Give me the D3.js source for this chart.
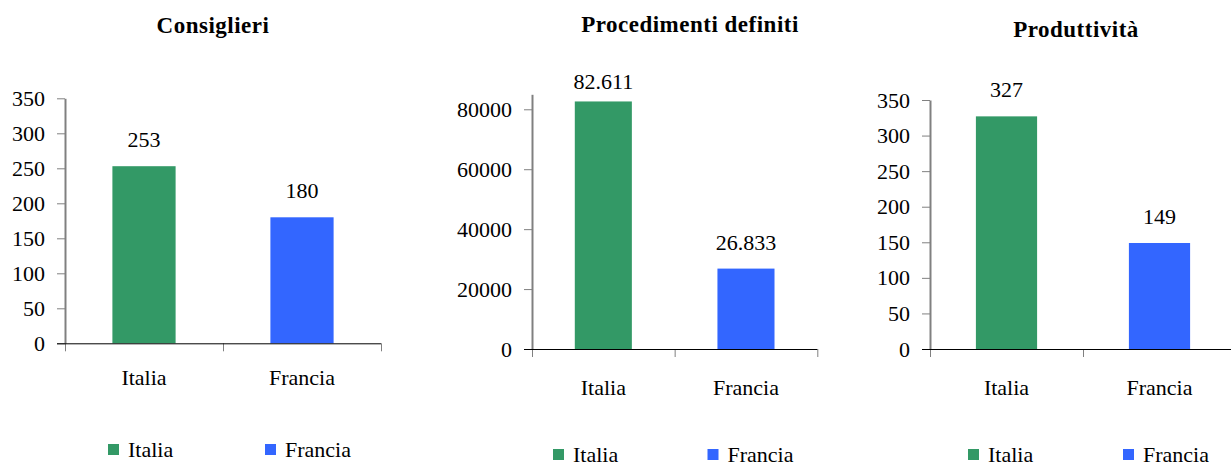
<!DOCTYPE html>
<html>
<head>
<meta charset="utf-8">
<title>Italia / Francia</title>
<script src="https://cdn.jsdelivr.net/npm/d3@7"></script>
<style>
  body { margin: 0; background: #fff; }
  svg text { font-family: "Liberation Serif", "Times New Roman", serif; fill: #000; }
  .title { font-weight: bold; font-size: 23px; letter-spacing: 0.5px; }
  .tick text, .lbl, .leg { font-size: 22px; }
</style>
</head>
<body>
<script>
// dati
var categories = ["Italia", "Francia"];
var titles = ["Consiglieri", "Procedimenti definiti", "Produttività"];
var consiglieri = [253, 180];
var procedimenti = [82611, 26833];
var produttivita = [327, 149];
var ticksConsiglieri = [0, 50, 100, 150, 200, 250, 300, 350];
var ticksProcedimenti = [0, 20000, 40000, 60000, 80000];
var ticksProduttivita = [0, 50, 100, 150, 200, 250, 300, 350];
var colors = ["#339966", "#3366FF"];

var width = 1231, height = 467;
var svg = d3.select("body").append("svg")
    .attr("width", width)
    .attr("height", height);

// separatore delle migliaia all'italiana (82.611)
var it = d3.formatLocale({decimal: ",", thousands: ".", grouping: [3], currency: ["€", ""]});
var fmtVal = it.format(",");

// posizione di ogni pannello
var panels = [
  {title: titles[0], values: consiglieri, ticks: ticksConsiglieri, max: 350,
   left: 65, right: 381, top: 98.3, bottom: 343.3, titleX: 213, titleY: 33,
   labelY: 385, legY: 444, legX: [108, 265]},
  {title: titles[1], values: procedimenti, ticks: ticksProcedimenti, max: 85000,
   left: 532, right: 817.3, top: 94.3, bottom: 349, titleX: 690, titleY: 31.5,
   labelY: 395, legY: 449, legX: [553, 707.5]},
  {title: titles[2], values: produttivita, ticks: ticksProduttivita, max: 350,
   left: 930, right: 1236, top: 100, bottom: 349, titleX: 1076, titleY: 37,
   labelY: 395, legY: 449, legX: [968, 1123]}
];

panels.forEach(function(p) {
  var g = svg.append("g");

  var x = d3.scaleBand()
      .domain(categories)
      .range([p.left, p.right])
      .paddingInner(0.6)
      .paddingOuter(0.3);
  var y = d3.scaleLinear()
      .domain([0, p.max])
      .range([p.bottom, p.top]);

  // titolo
  g.append("text")
      .attr("class", "title")
      .attr("x", p.titleX)
      .attr("y", p.titleY)
      .attr("text-anchor", "middle")
      .text(p.title);

  // barre
  g.selectAll("rect.bar")
      .data(p.values)
      .enter()
      .append("rect")
      .attr("class", "bar")
      .attr("x", function(d, i) { return x(categories[i]); })
      .attr("y", function(d) { return y(d); })
      .attr("width", x.bandwidth())
      .attr("height", function(d) { return y(0) - y(d); })
      .attr("fill", function(d, i) { return colors[i]; });

  // etichette dei valori
  g.selectAll("text.lbl")
      .data(p.values)
      .enter()
      .append("text")
      .attr("class", "lbl")
      .attr("text-anchor", "middle")
      .attr("x", function(d, i) { return x(categories[i]) + x.bandwidth() / 2; })
      .attr("y", function(d) { return Math.max(y(d) - 19, y(p.max) - 5); })
      .text(function(d) { return fmtVal(d); });

  // asse y
  var yAxis = g.append("g")
      .attr("transform", "translate(" + p.left + ",0)")
      .call(d3.axisLeft(y)
        .tickValues(p.ticks)
        .tickFormat(d3.format("d"))
        .tickSize(8)
        .tickSizeOuter(0)
        .tickPadding(12));
  yAxis.select(".domain").attr("stroke", "#808080").attr("stroke-width", 2);
  yAxis.selectAll(".tick line").attr("stroke", "#808080");
  yAxis.selectAll(".tick text").attr("fill", "#000").attr("font-family", null).attr("font-size", null);

  // tacche dell'asse x ai bordi delle categorie
  var xb = d3.scaleLinear().domain([0, categories.length]).range([p.left, p.right]);
  var xTicks = g.append("g")
      .attr("transform", "translate(0," + p.bottom + ")")
      .call(d3.axisBottom(xb)
        .tickValues(d3.range(categories.length + 1))
        .tickFormat("")
        .tickSize(8)
        .tickSizeOuter(0));
  xTicks.select(".domain").remove();
  xTicks.selectAll(".tick line").attr("stroke", "#808080");

  // linea dell'asse x
  g.append("line")
      .attr("x1", p.left - 8)
      .attr("x2", p.right)
      .attr("y1", p.bottom + 0.5)
      .attr("y2", p.bottom + 0.5)
      .attr("stroke", "#000");

  // nomi delle categorie
  g.selectAll("text.cat")
      .data(categories)
      .enter()
      .append("text")
      .attr("class", "lbl cat")
      .attr("text-anchor", "middle")
      .attr("x", function(d) { return x(d) + x.bandwidth() / 2; })
      .attr("y", p.labelY)
      .text(function(d) { return d; });

  // legenda
  var leg = g.selectAll("g.leg")
      .data(categories)
      .enter()
      .append("g")
      .attr("transform", function(d, i) { return "translate(" + p.legX[i] + "," + p.legY + ")"; });
  leg.append("rect")
      .attr("width", 11)
      .attr("height", 11)
      .attr("fill", function(d, i) { return colors[i]; });
  leg.append("text")
      .attr("class", "leg")
      .attr("x", 20)
      .attr("y", 12.5)
      .text(function(d) { return d; });
});
</script>
</body>
</html>
